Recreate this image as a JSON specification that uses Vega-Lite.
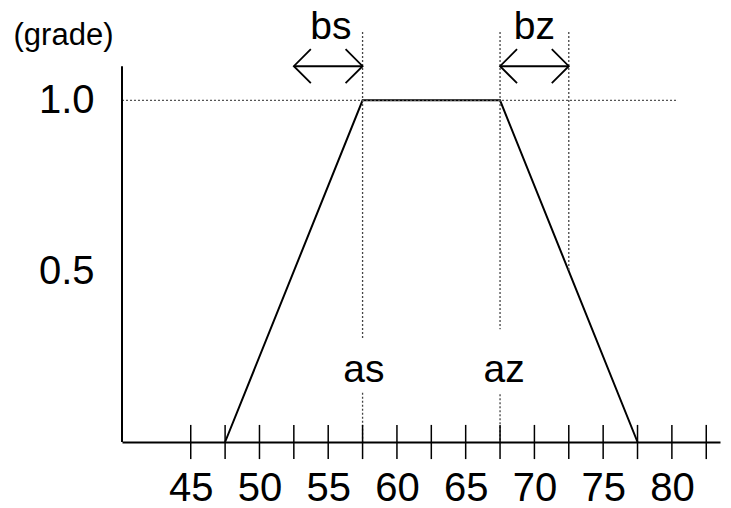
{
  "$schema": "https://vega.github.io/schema/vega-lite/v6.json",
  "width": 598,
  "height": 410,
  "autosize": {"type": "none"},
  "padding": {"left": 122, "top": 32, "right": 11, "bottom": 66},
  "background": "white",
  "config": {
    "view": {"stroke": null},
    "font": "Liberation Sans",
    "text": {"font": "Liberation Sans"}
  },
  "layer": [
    {
      "data": {"values": [
        {"x": 47.5, "grade": 0},
        {"x": 57.5, "grade": 1},
        {"x": 67.5, "grade": 1},
        {"x": 77.5, "grade": 0}
      ]},
      "mark": {"type": "line", "color": "black", "strokeWidth": 2, "clip": false},
      "encoding": {
        "x": {
          "field": "x", "type": "quantitative",
          "scale": {"domain": [40, 83.5], "nice": false, "zero": false},
          "axis": {
            "values": [45, 50, 55, 60, 65, 70, 75, 80],
            "title": null, "grid": false, "ticks": false, "tickSize": 0,
            "domain": true, "domainColor": "black", "domainWidth": 2,
            "labelFont": "Liberation Sans", "labelFontSize": 40, "labelColor": "black",
            "labelPadding": 26, "labelFlush": false, "labelOverlap": false
          }
        },
        "y": {
          "field": "grade", "type": "quantitative", "title": "(grade)",
          "scale": {"domain": [0, 1.2], "nice": false, "zero": false},
          "axis": {
            "values": [0.5, 1.0], "format": ".1f",
            "grid": false, "ticks": false, "tickSize": 0, "domain": false,
            "labelFont": "Liberation Sans", "labelFontSize": 40, "labelColor": "black",
            "labelPadding": 28,
            "title": "(grade)", "titleAngle": 0, "titleX": -59, "titleY": 3,
            "titleFont": "Liberation Sans", "titleFontSize": 31, "titleFontWeight": "normal",
            "titleColor": "black", "titleAlign": "center", "titleBaseline": "middle"
          }
        }
      }
    },
    {
      "data": {"values": [
        {"x": 57.5, "y": 1.2, "y2": 0.3},
        {"x": 57.5, "y": 0.144, "y2": 0},
        {"x": 67.5, "y": 1.2, "y2": 0.33},
        {"x": 67.5, "y": 0.14, "y2": 0},
        {"x": 72.5, "y": 1.2, "y2": 0.5}
      ]},
      "mark": {"type": "rule", "color": "#444", "strokeWidth": 1.3, "strokeDash": [2, 2], "clip": false},
      "encoding": {
        "x": {"field": "x", "type": "quantitative", "title": null},
        "y": {"field": "y", "type": "quantitative", "title": "(grade)"},
        "y2": {"field": "y2"}
      }
    },
    {
      "data": {"values": [{"x": 40, "x2": 80.3, "y": 1}]},
      "mark": {"type": "rule", "color": "#555", "strokeWidth": 1.3, "strokeDash": [2, 2], "clip": false},
      "encoding": {
        "x": {"field": "x", "type": "quantitative", "title": null},
        "x2": {"field": "x2"},
        "y": {"field": "y", "type": "quantitative", "title": "(grade)"}
      }
    },
    {
      "data": {"values": [{"x": 40, "y": 0, "y2": 1.1}]},
      "mark": {"type": "rule", "color": "black", "strokeWidth": 2, "clip": false},
      "encoding": {
        "x": {"field": "x", "type": "quantitative", "title": null},
        "y": {"field": "y", "type": "quantitative", "title": "(grade)"},
        "y2": {"field": "y2"}
      }
    },
    {
      "data": {"values": [
        {"tick": 45}, {"tick": 47.5}, {"tick": 50}, {"tick": 52.5},
        {"tick": 55}, {"tick": 57.5}, {"tick": 60}, {"tick": 62.5},
        {"tick": 65}, {"tick": 67.5}, {"tick": 70}, {"tick": 72.5},
        {"tick": 75}, {"tick": 77.5}, {"tick": 80}, {"tick": 82.5}
      ]},
      "mark": {"type": "rule", "color": "black", "strokeWidth": 1.5, "clip": false},
      "encoding": {
        "x": {"field": "tick", "type": "quantitative", "title": null},
        "y": {"datum": -0.05, "type": "quantitative", "title": "(grade)"},
        "y2": {"datum": 0.05}
      }
    },
    {
      "data": {"values": [
        {"x": 52.5, "x2": 57.5, "y": 1.1},
        {"x": 67.5, "x2": 72.5, "y": 1.1}
      ]},
      "mark": {"type": "rule", "color": "black", "strokeWidth": 2, "clip": false},
      "encoding": {
        "x": {"field": "x", "type": "quantitative", "title": null},
        "x2": {"field": "x2"},
        "y": {"field": "y", "type": "quantitative", "title": "(grade)"}
      }
    },
    {
      "data": {"values": [
        {"x": 52.5, "y": 1.1, "dir": "L"},
        {"x": 57.5, "y": 1.1, "dir": "R"},
        {"x": 67.5, "y": 1.1, "dir": "L"},
        {"x": 72.5, "y": 1.1, "dir": "R"}
      ]},
      "mark": {"type": "point", "filled": false, "stroke": "black", "strokeWidth": 1.8, "opacity": 1, "size": 1156, "clip": false},
      "encoding": {
        "x": {"field": "x", "type": "quantitative", "title": null},
        "y": {"field": "y", "type": "quantitative", "title": "(grade)"},
        "shape": {
          "field": "dir", "type": "nominal", "legend": null,
          "scale": {"domain": ["L", "R"], "range": ["M1,-1L0,0L1,1", "M-1,-1L0,0L-1,1"]}
        }
      }
    },
    {
      "data": {"values": [
        {"x": 55.2, "y": 1.18, "label": "bs"},
        {"x": 70.0, "y": 1.18, "label": "bz"},
        {"x": 57.6, "y": 0.176, "label": "as"},
        {"x": 67.8, "y": 0.176, "label": "az"}
      ]},
      "mark": {"type": "text", "font": "Liberation Sans", "fontSize": 39, "color": "black", "align": "center", "baseline": "alphabetic", "clip": false},
      "encoding": {
        "x": {"field": "x", "type": "quantitative", "title": null},
        "y": {"field": "y", "type": "quantitative", "title": "(grade)"},
        "text": {"field": "label"}
      }
    }
  ]
}
